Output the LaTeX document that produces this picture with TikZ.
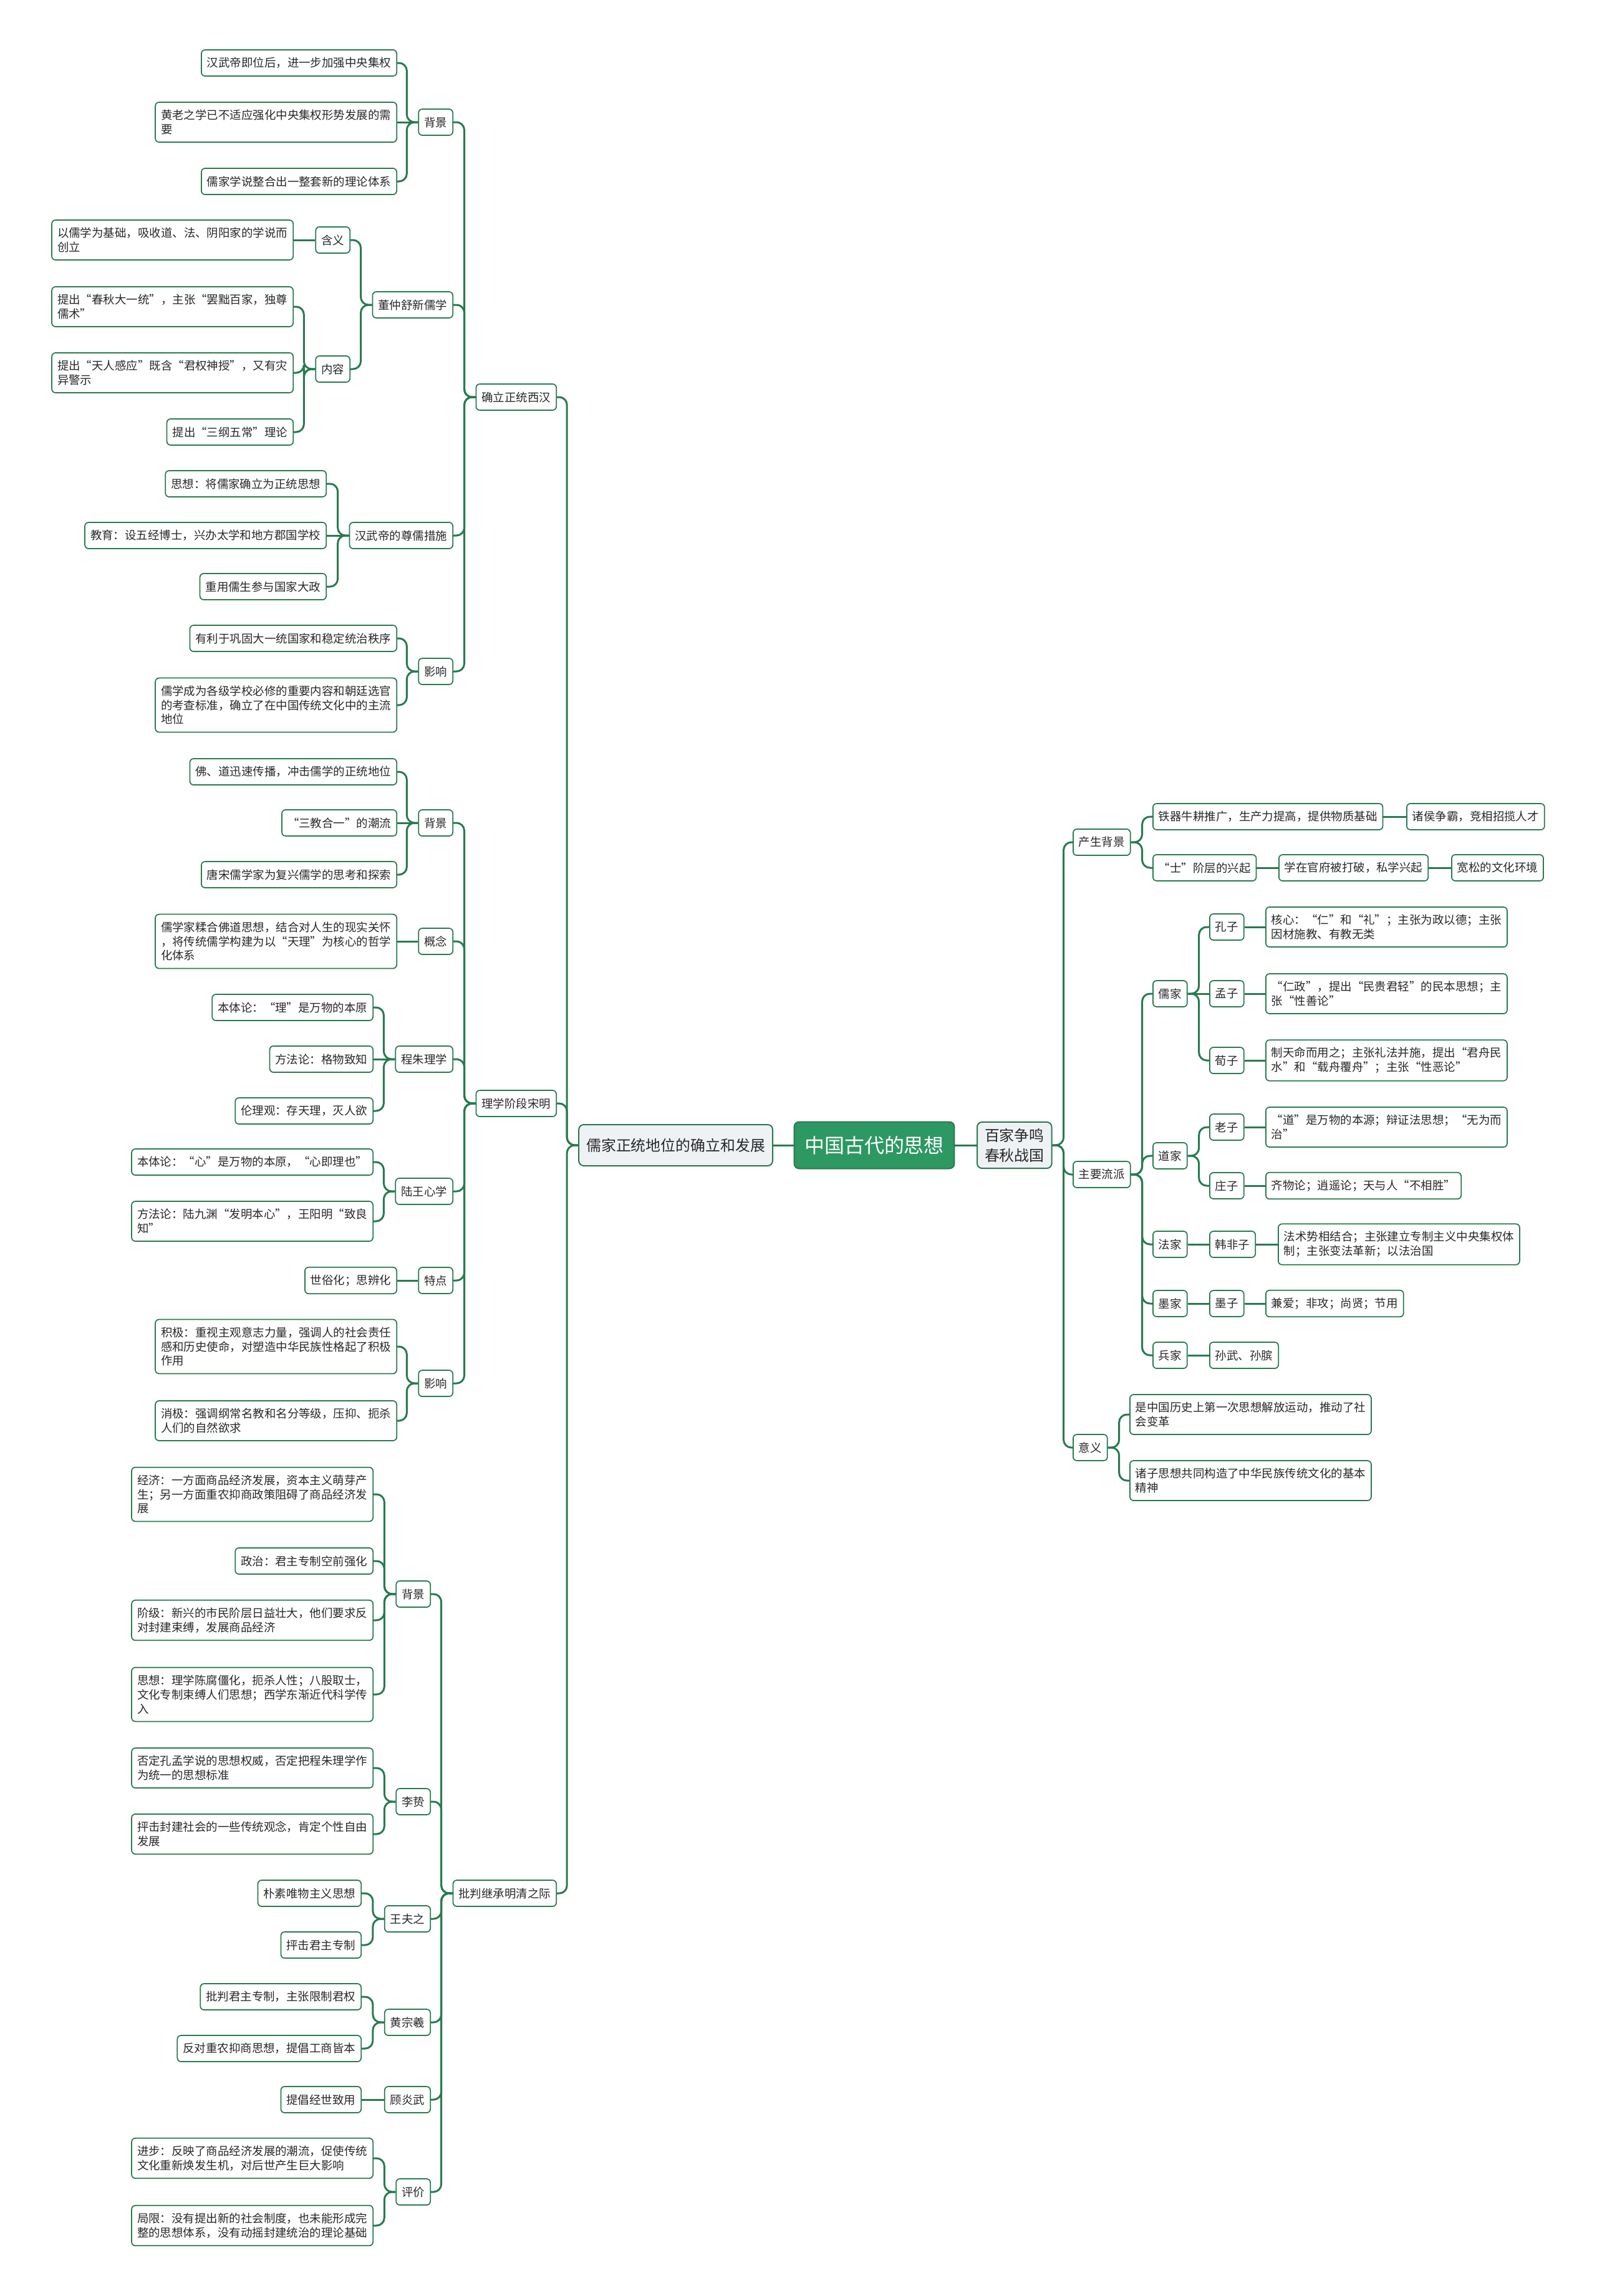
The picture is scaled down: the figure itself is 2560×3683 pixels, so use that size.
\documentclass[tikz,border=0pt]{standalone}
\usepackage{fontspec}
\usepackage{xcolor}
\usepackage{tikz}
\usetikzlibrary{positioning, calc}
\newfontfamily\cjk{Noto Sans CJK SC}
\definecolor{corLinha}{RGB}{40, 122, 80}
\definecolor{corRaiz}{RGB}{45, 152, 98}
\definecolor{corTopico}{RGB}{239, 242, 245}
\definecolor{corTexto}{RGB}{40, 40, 40}

\begin{document}
\begin{tikzpicture}[
    x=0.2mm, y=-0.2mm,
    root/.style={
        draw=corLinha, fill=corRaiz, rounded corners=1.6mm, line width=0.4mm,
        minimum height=15mm, inner xsep=3.3mm, text=white,
        font=\cjk\fontsize{18.2pt}{22pt}\selectfont
    },
    topic/.style={
        draw=corLinha, fill=corTopico, rounded corners=1.6mm, line width=0.4mm,
        minimum height=13.2mm, inner xsep=2.4mm, inner ysep=2mm, align=center,
        text=corTexto, font=\cjk\fontsize{13.6pt}{18.2pt}\selectfont
    },
    leaf/.style={
        draw=corLinha, fill=white, rounded corners=1.2mm, line width=0.35mm,
        minimum height=8.4mm, inner xsep=1.8mm, inner ysep=2.4mm, align=left,
        text=corTexto, font=\cjk\fontsize{10.5pt}{13pt}\selectfont
    },
    link/.style={draw=corLinha, line width=0.6mm, rounded corners=2.5mm}
]
\useasboundingbox[fill=white] (0,0) rectangle (2560,3683);

% centre
\node[root] (root) at (1402,1837) {中国古代的思想};
\node[topic, anchor=east] (rujia) at (1240,1837) {儒家正统地位的确立和发展};
\node[topic, anchor=west] (baijia) at (1566,1837) {百家争鸣\\春秋战国};

% left: stages
\node[leaf, anchor=east] (xihan) at (893,637) {确立正统西汉};
\node[leaf, anchor=east] (songming) at (893,1770) {理学阶段宋明};
\node[leaf, anchor=east] (mingqing) at (893,3037) {批判继承明清之际};

% xihan
\node[leaf, anchor=east] (xhBj) at (727,196) {背景};
\node[leaf, anchor=east] (xhDong) at (727,489) {董仲舒新儒学};
\node[leaf, anchor=east] (xhCuoshi) at (727,859) {汉武帝的尊儒措施};
\node[leaf, anchor=east] (xhYx) at (727,1077) {影响};

\node[leaf, anchor=east] (xhBj1) at (637,101) {汉武帝即位后，进一步加强中央集权};
\node[leaf, anchor=east] (xhBj2) at (637,196) {黄老之学已不适应强化中央集权形势发展的需\\要};
\node[leaf, anchor=east] (xhBj3) at (637,291) {儒家学说整合出一整套新的理论体系};

\node[leaf, anchor=east] (dzHy) at (562,385) {含义};
\node[leaf, anchor=east] (dzNr) at (562,592) {内容};
\node[leaf, anchor=east] (dzHy1) at (471,385) {以儒学为基础，吸收道、法、阴阳家的学说而\\创立};
\node[leaf, anchor=east] (dzNr1) at (471,492) {提出“春秋大一统”，主张“罢黜百家，独尊\\儒术”};
\node[leaf, anchor=east] (dzNr2) at (471,598) {提出“天人感应”既含“君权神授”，又有灾\\异警示};
\node[leaf, anchor=east] (dzNr3) at (471,693) {提出“三纲五常”理论};

\node[leaf, anchor=east] (csA) at (524,776) {思想：将儒家确立为正统思想};
\node[leaf, anchor=east] (csB) at (524,859) {教育：设五经博士，兴办太学和地方郡国学校};
\node[leaf, anchor=east] (csC) at (524,941) {重用儒生参与国家大政};

\node[leaf, anchor=east] (xhYx1) at (637,1024) {有利于巩固大一统国家和稳定统治秩序};
\node[leaf, anchor=east] (xhYx2) at (637,1131) {儒学成为各级学校必修的重要内容和朝廷选官\\的考查标准，确立了在中国传统文化中的主流\\地位};

% songming
\node[leaf, anchor=east] (smBj) at (727,1320) {背景};
\node[leaf, anchor=east] (smGn) at (727,1510) {概念};
\node[leaf, anchor=east] (smCz) at (727,1699) {程朱理学};
\node[leaf, anchor=east] (smLw) at (727,1911) {陆王心学};
\node[leaf, anchor=east] (smTd) at (727,2054) {特点};
\node[leaf, anchor=east] (smYx) at (727,2219) {影响};

\node[leaf, anchor=east] (smBj1) at (637,1238) {佛、道迅速传播，冲击儒学的正统地位};
\node[leaf, anchor=east] (smBj2) at (637,1320) {“三教合一”的潮流};
\node[leaf, anchor=east] (smBj3) at (637,1403) {唐宋儒学家为复兴儒学的思考和探索};
\node[leaf, anchor=east] (smGn1) at (637,1510) {儒学家糅合佛道思想，结合对人生的现实关怀\\，将传统儒学构建为以“天理”为核心的哲学\\化体系};
\node[leaf, anchor=east] (smCz1) at (599,1616) {本体论：“理”是万物的本原};
\node[leaf, anchor=east] (smCz2) at (599,1699) {方法论：格物致知};
\node[leaf, anchor=east] (smCz3) at (599,1782) {伦理观：存天理，灭人欲};
\node[leaf, anchor=east] (smLw1) at (599,1864) {本体论：“心”是万物的本原，“心即理也”};
\node[leaf, anchor=east] (smLw2) at (599,1959) {方法论：陆九渊“发明本心”，王阳明“致良\\知”};
\node[leaf, anchor=east] (smTd1) at (637,2054) {世俗化；思辨化};
\node[leaf, anchor=east] (smYx1) at (637,2160) {积极：重视主观意志力量，强调人的社会责任\\感和历史使命，对塑造中华民族性格起了积极\\作用};
\node[leaf, anchor=east] (smYx2) at (637,2279) {消极：强调纲常名教和名分等级，压抑、扼杀\\人们的自然欲求};

% mingqing
\node[leaf, anchor=east] (mqBj) at (691,2557) {背景};
\node[leaf, anchor=east] (mqLz) at (691,2890) {李贽};
\node[leaf, anchor=east] (mqWfz) at (691,3078) {王夫之};
\node[leaf, anchor=east] (mqHzx) at (691,3244) {黄宗羲};
\node[leaf, anchor=east] (mqGyw) at (691,3368) {顾炎武};
\node[leaf, anchor=east] (mqPj) at (691,3516) {评价};

\node[leaf, anchor=east] (mqBj1) at (599,2397) {经济：一方面商品经济发展，资本主义萌芽产\\生；另一方面重农抑商政策阻碍了商品经济发\\展};
\node[leaf, anchor=east] (mqBj2) at (599,2504) {政治：君主专制空前强化};
\node[leaf, anchor=east] (mqBj3) at (599,2599) {阶级：新兴的市民阶层日益壮大，他们要求反\\对封建束缚，发展商品经济};
\node[leaf, anchor=east] (mqBj4) at (599,2718) {思想：理学陈腐僵化，扼杀人性；八股取士，\\文化专制束缚人们思想；西学东渐近代科学传\\入};
\node[leaf, anchor=east] (mqLz1) at (599,2836) {否定孔孟学说的思想权威，否定把程朱理学作\\为统一的思想标准};
\node[leaf, anchor=east] (mqLz2) at (599,2942) {抨击封建社会的一些传统观念，肯定个性自由\\发展};
\node[leaf, anchor=east] (mqWfz1) at (580,3037) {朴素唯物主义思想};
\node[leaf, anchor=east] (mqWfz2) at (580,3120) {抨击君主专制};
\node[leaf, anchor=east] (mqHzx1) at (580,3203) {批判君主专制，主张限制君权};
\node[leaf, anchor=east] (mqHzx2) at (580,3286) {反对重农抑商思想，提倡工商皆本};
\node[leaf, anchor=east] (mqGyw1) at (580,3368) {提倡经世致用};
\node[leaf, anchor=east] (mqPj1) at (599,3462) {进步：反映了商品经济发展的潮流，促使传统\\文化重新焕发生机，对后世产生巨大影响};
\node[leaf, anchor=east] (mqPj2) at (599,3570) {局限：没有提出新的社会制度，也未能形成完\\整的思想体系，没有动摇封建统治的理论基础};

% right: baijia
\node[leaf, anchor=west] (bjBg) at (1720,1351) {产生背景};
\node[leaf, anchor=west] (bjLp) at (1720,1884) {主要流派};
\node[leaf, anchor=west] (bjYy) at (1720,2322) {意义};

\node[leaf, anchor=west] (bgTq) at (1848,1310) {铁器牛耕推广，生产力提高，提供物质基础};
\node[leaf, anchor=west] (bgZh) at (2255,1310) {诸侯争霸，竞相招揽人才};
\node[leaf, anchor=west] (bgShi) at (1848,1392) {“士”阶层的兴起};
\node[leaf, anchor=west] (bgSx) at (2050,1392) {学在官府被打破，私学兴起};
\node[leaf, anchor=west] (bgKs) at (2327,1392) {宽松的文化环境};

\node[leaf, anchor=west] (lpRu) at (1848,1594) {儒家};
\node[leaf, anchor=west] (lpDao) at (1848,1854) {道家};
\node[leaf, anchor=west] (lpFa) at (1848,1996) {法家};
\node[leaf, anchor=west] (lpMo) at (1848,2091) {墨家};
\node[leaf, anchor=west] (lpBing) at (1848,2174) {兵家};

\node[leaf, anchor=west] (kongzi) at (1939,1487) {孔子};
\node[leaf, anchor=west] (mengzi) at (1939,1594) {孟子};
\node[leaf, anchor=west] (xunzi) at (1939,1701) {荀子};
\node[leaf, anchor=west] (kongziT) at (2029,1487) {核心：“仁”和“礼”；主张为政以德；主张\\因材施教、有教无类};
\node[leaf, anchor=west] (mengziT) at (2029,1594) {“仁政”，提出“民贵君轻”的民本思想；主\\张“性善论”};
\node[leaf, anchor=west] (xunziT) at (2029,1701) {制天命而用之；主张礼法并施，提出“君舟民\\水”和“载舟覆舟”；主张“性恶论”};

\node[leaf, anchor=west] (laozi) at (1939,1808) {老子};
\node[leaf, anchor=west] (zhuangzi) at (1939,1902) {庄子};
\node[leaf, anchor=west] (laoziT) at (2029,1808) {“道”是万物的本源；辩证法思想；“无为而\\治”};
\node[leaf, anchor=west] (zhuangziT) at (2029,1902) {齐物论；逍遥论；天与人“不相胜”};

\node[leaf, anchor=west] (hanfei) at (1939,1996) {韩非子};
\node[leaf, anchor=west] (hanfeiT) at (2049,1996) {法术势相结合；主张建立专制主义中央集权体\\制；主张变法革新；以法治国};
\node[leaf, anchor=west] (mozi) at (1939,2091) {墨子};
\node[leaf, anchor=west] (moziT) at (2029,2091) {兼爱；非攻；尚贤；节用};
\node[leaf, anchor=west] (sunwu) at (1939,2174) {孙武、孙膑};

\node[leaf, anchor=west] (yy1) at (1811,2269) {是中国历史上第一次思想解放运动，推动了社\\会变革};
\node[leaf, anchor=west] (yy2) at (1811,2375) {诸子思想共同构造了中华民族传统文化的基本\\精神};

% connectors, centre
\draw[link] (root.west) -- (rujia.east);
\draw[link] (root.east) -- (baijia.west);

% connectors, left
\draw[link] (rujia.west) -- ++(-18,0) |- (xihan.east);
\draw[link] (rujia.west) -- ++(-18,0) |- (songming.east);
\draw[link] (rujia.west) -- ++(-18,0) |- (mingqing.east);

\draw[link] (xihan.west) -- ++(-18,0) |- (xhBj.east);
\draw[link] (xihan.west) -- ++(-18,0) |- (xhDong.east);
\draw[link] (xihan.west) -- ++(-18,0) |- (xhCuoshi.east);
\draw[link] (xihan.west) -- ++(-18,0) |- (xhYx.east);
\draw[link] (xhBj.west) -- ++(-18,0) |- (xhBj1.east);
\draw[link] (xhBj.west) -- (xhBj2.east);
\draw[link] (xhBj.west) -- ++(-18,0) |- (xhBj3.east);
\draw[link] (xhDong.west) -- ++(-18,0) |- (dzHy.east);
\draw[link] (xhDong.west) -- ++(-18,0) |- (dzNr.east);
\draw[link] (dzHy.west) -- (dzHy1.east);
\draw[link] (dzNr.west) -- ++(-18,0) |- (dzNr1.east);
\draw[link] (dzNr.west) -- ++(-18,0) |- (dzNr2.east);
\draw[link] (dzNr.west) -- ++(-18,0) |- (dzNr3.east);
\draw[link] (xhCuoshi.west) -- ++(-18,0) |- (csA.east);
\draw[link] (xhCuoshi.west) -- (csB.east);
\draw[link] (xhCuoshi.west) -- ++(-18,0) |- (csC.east);
\draw[link] (xhYx.west) -- ++(-18,0) |- (xhYx1.east);
\draw[link] (xhYx.west) -- ++(-18,0) |- (xhYx2.east);

\draw[link] (songming.west) -- ++(-18,0) |- (smBj.east);
\draw[link] (songming.west) -- ++(-18,0) |- (smGn.east);
\draw[link] (songming.west) -- ++(-18,0) |- (smCz.east);
\draw[link] (songming.west) -- ++(-18,0) |- (smLw.east);
\draw[link] (songming.west) -- ++(-18,0) |- (smTd.east);
\draw[link] (songming.west) -- ++(-18,0) |- (smYx.east);
\draw[link] (smBj.west) -- ++(-18,0) |- (smBj1.east);
\draw[link] (smBj.west) -- (smBj2.east);
\draw[link] (smBj.west) -- ++(-18,0) |- (smBj3.east);
\draw[link] (smGn.west) -- (smGn1.east);
\draw[link] (smCz.west) -- ++(-18,0) |- (smCz1.east);
\draw[link] (smCz.west) -- (smCz2.east);
\draw[link] (smCz.west) -- ++(-18,0) |- (smCz3.east);
\draw[link] (smLw.west) -- ++(-18,0) |- (smLw1.east);
\draw[link] (smLw.west) -- ++(-18,0) |- (smLw2.east);
\draw[link] (smTd.west) -- (smTd1.east);
\draw[link] (smYx.west) -- ++(-18,0) |- (smYx1.east);
\draw[link] (smYx.west) -- ++(-18,0) |- (smYx2.east);

\draw[link] (mingqing.west) -- ++(-18,0) |- (mqBj.east);
\draw[link] (mingqing.west) -- ++(-18,0) |- (mqLz.east);
\draw[link] (mingqing.west) -- ++(-18,0) |- (mqWfz.east);
\draw[link] (mingqing.west) -- ++(-18,0) |- (mqHzx.east);
\draw[link] (mingqing.west) -- ++(-18,0) |- (mqGyw.east);
\draw[link] (mingqing.west) -- ++(-18,0) |- (mqPj.east);
\draw[link] (mqBj.west) -- ++(-18,0) |- (mqBj1.east);
\draw[link] (mqBj.west) -- ++(-18,0) |- (mqBj2.east);
\draw[link] (mqBj.west) -- ++(-18,0) |- (mqBj3.east);
\draw[link] (mqBj.west) -- ++(-18,0) |- (mqBj4.east);
\draw[link] (mqLz.west) -- ++(-18,0) |- (mqLz1.east);
\draw[link] (mqLz.west) -- ++(-18,0) |- (mqLz2.east);
\draw[link] (mqWfz.west) -- ++(-18,0) |- (mqWfz1.east);
\draw[link] (mqWfz.west) -- ++(-18,0) |- (mqWfz2.east);
\draw[link] (mqHzx.west) -- ++(-18,0) |- (mqHzx1.east);
\draw[link] (mqHzx.west) -- ++(-18,0) |- (mqHzx2.east);
\draw[link] (mqGyw.west) -- (mqGyw1.east);
\draw[link] (mqPj.west) -- ++(-18,0) |- (mqPj1.east);
\draw[link] (mqPj.west) -- ++(-18,0) |- (mqPj2.east);

% connectors, right
\draw[link] (baijia.east) -- ++(18,0) |- (bjBg.west);
\draw[link] (baijia.east) -- ++(18,0) |- (bjLp.west);
\draw[link] (baijia.east) -- ++(18,0) |- (bjYy.west);
\draw[link] (bjBg.east) -- ++(18,0) |- (bgTq.west);
\draw[link] (bjBg.east) -- ++(18,0) |- (bgShi.west);
\draw[link] (bgTq.east) -- (bgZh.west);
\draw[link] (bgShi.east) -- (bgSx.west);
\draw[link] (bgSx.east) -- (bgKs.west);
\draw[link] (bjLp.east) -- ++(18,0) |- (lpRu.west);
\draw[link] (bjLp.east) -- ++(18,0) |- (lpDao.west);
\draw[link] (bjLp.east) -- ++(18,0) |- (lpFa.west);
\draw[link] (bjLp.east) -- ++(18,0) |- (lpMo.west);
\draw[link] (bjLp.east) -- ++(18,0) |- (lpBing.west);
\draw[link] (lpRu.east) -- ++(18,0) |- (kongzi.west);
\draw[link] (lpRu.east) -- (mengzi.west);
\draw[link] (lpRu.east) -- ++(18,0) |- (xunzi.west);
\draw[link] (kongzi.east) -- (kongziT.west);
\draw[link] (mengzi.east) -- (mengziT.west);
\draw[link] (xunzi.east) -- (xunziT.west);
\draw[link] (lpDao.east) -- ++(18,0) |- (laozi.west);
\draw[link] (lpDao.east) -- ++(18,0) |- (zhuangzi.west);
\draw[link] (laozi.east) -- (laoziT.west);
\draw[link] (zhuangzi.east) -- (zhuangziT.west);
\draw[link] (lpFa.east) -- (hanfei.west);
\draw[link] (hanfei.east) -- (hanfeiT.west);
\draw[link] (lpMo.east) -- (mozi.west);
\draw[link] (mozi.east) -- (moziT.west);
\draw[link] (lpBing.east) -- (sunwu.west);
\draw[link] (bjYy.east) -- ++(18,0) |- (yy1.west);
\draw[link] (bjYy.east) -- ++(18,0) |- (yy2.west);

\end{tikzpicture}
\end{document}
